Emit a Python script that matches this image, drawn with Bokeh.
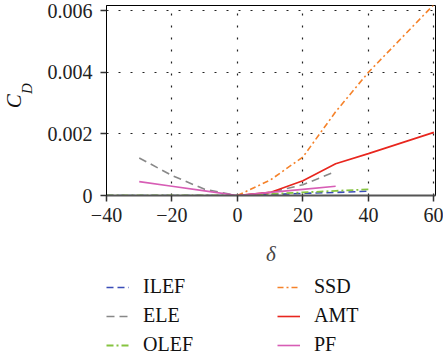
import math
from bokeh.plotting import figure
from bokeh.layouts import column, row
from bokeh.models import Legend, LegendItem, FixedTicker, CustomJSTickFormatter, Range1d
from bokeh.core.properties import value
from bokeh.embed import file_html
from bokeh.resources import INLINE

# ---- data ----
delta_ilef = [-40, -30, -20, -10, 0, 10, 20, 30, 40]
cd_ilef = [0, 0, 0, 0, 0, 0.00003, 0.00007, 0.0001, 0.00014]

delta_ele = [-30, -20, -10, 0, 10, 20, 30]
cd_ele = [0.00122, 0.00065, 0.0002, 0.0, 0.0001, 0.00035, 0.00078]

delta_olef = [-40, -30, -20, -10, 0, 10, 20, 30, 40]
cd_olef = [0, 0, 0, 0, 0, 0.00005, 0.0001, 0.00015, 0.0002]

delta_ssd = [0, 10, 20, 30, 40, 50, 60]
cd_ssd = [0.0, 0.0005, 0.00125, 0.00272, 0.004, 0.0051, 0.0062]

delta_amt = [0, 10, 20, 30, 40, 60]
cd_amt = [0.0, 0.0001, 0.00048, 0.00103, 0.00136, 0.00205]

delta_pf = [-30, -20, -10, 0, 10, 20, 30]
cd_pf = [0.00045, 0.0003, 0.00015, 0.0, 0.0001, 0.0002, 0.0003]

series_names = ["ILEF", "ELE", "OLEF", "SSD", "AMT", "PF"]
x_ticks = [-40, -20, 0, 20, 40, 60]
y_ticks = [0, 0.002, 0.004, 0.006]

FONT = "Liberation Serif"

styles = {
    "ILEF": dict(line_color="#3A4DB8", line_width=1.6, line_dash="7 4"),
    "ELE": dict(line_color="#888888", line_width=1.6, line_dash="8 5"),
    "OLEF": dict(line_color="#86C440", line_width=1.8, line_dash="7 3 2 3"),
    "SSD": dict(line_color="#F5822A", line_width=1.6, line_dash="6 3 2 3"),
    "AMT": dict(line_color="#E8261E", line_width=1.6, line_dash="solid"),
    "PF": dict(line_color="#D75DB5", line_width=1.6, line_dash="solid"),
}
data = {
    "ILEF": (delta_ilef, cd_ilef),
    "ELE": (delta_ele, cd_ele),
    "OLEF": (delta_olef, cd_olef),
    "SSD": (delta_ssd, cd_ssd),
    "AMT": (delta_amt, cd_amt),
    "PF": (delta_pf, cd_pf),
}

# ---- main plot ----
p = figure(width=408, height=270, output_backend="svg", toolbar_location=None,
           x_range=Range1d(-40, 60.5), y_range=Range1d(0, 0.00617),
           min_border_left=71, min_border_right=8, min_border_top=5, min_border_bottom=75)

p.outline_line_color = "black"
p.outline_line_width = 1
p.background_fill_color = "white"
p.border_fill_color = "white"

fmt = CustomJSTickFormatter(code="return tick < 0 ? '\\u2212' + Math.abs(tick) : tick.toString();")

p.xaxis.ticker = FixedTicker(ticks=x_ticks)
p.yaxis.ticker = FixedTicker(ticks=y_ticks)
p.xaxis.formatter = fmt
p.yaxis.formatter = fmt

for ax in (p.xaxis, p.yaxis):
    ax.major_label_text_font = FONT
    ax.major_label_text_font_size = "20px"
    ax.major_label_text_color = "#222222"
    ax.minor_tick_line_color = None
    ax.major_tick_out = 6
    ax.major_tick_in = 0
    ax.major_tick_line_color = "#333333"
    ax.major_tick_line_width = 1.5

p.xaxis.axis_line_color = "#555555"
p.xaxis.axis_line_width = 2
p.yaxis.axis_line_color = "black"
p.yaxis.axis_line_width = 1
p.xaxis.major_label_standoff = 6
p.yaxis.major_label_standoff = 8

p.xaxis.axis_label = "δ"
p.xaxis.axis_label_text_font = FONT
p.xaxis.axis_label_text_font_style = "italic"
p.xaxis.axis_label_text_font_size = "21px"
p.xaxis.axis_label_standoff = 17

for g in (p.xgrid, p.ygrid):
    g.grid_line_color = "#222222"
    g.grid_line_dash = "2 10"
    g.grid_line_width = 1.2

for name in series_names:
    xs, ys = data[name]
    p.line(xs, ys, **styles[name])

# ---- y-axis title C_D (italic, with subscript), in a narrow panel ----
lab = figure(width=35, height=270, output_backend="svg", toolbar_location=None,
             x_axis_type=None, y_axis_type=None, x_range=Range1d(0, 35), y_range=Range1d(270, 0),
             min_border_left=0, min_border_right=0, min_border_top=0, min_border_bottom=0)
lab.outline_line_color = None
lab.grid.visible = False
lab.text(x=[13], y=[136], text=["C"], angle=math.pi / 2,
         text_font=value(FONT), text_font_style="italic", text_font_size="21px",
         text_align="center", text_baseline="middle", text_color="#111111")
lab.text(x=[26], y=[118], text=["D"], angle=math.pi / 2,
         text_font=value(FONT), text_font_style="italic", text_font_size="15px",
         text_align="center", text_baseline="middle", text_color="#111111")

# ---- legend panel (series drawn again, outside the visible range, only to key the legend) ----
q = figure(width=443, height=91, output_backend="svg", toolbar_location=None,
           x_axis_type=None, y_axis_type=None, x_range=Range1d(-40, 60.5), y_range=Range1d(1, 2),
           min_border_left=0, min_border_right=0, min_border_top=0, min_border_bottom=0)
q.outline_line_color = None
q.grid.visible = False
items = []
for name in series_names:
    xs, ys = data[name]
    r = q.line(xs, ys, **styles[name])
    items.append(LegendItem(label=name, renderers=[r]))

legend = Legend(items=items, nrows=3, location=(106, 5), orientation="vertical")
legend.border_line_color = None
legend.background_fill_alpha = 0
legend.padding = 0
legend.margin = 0
legend.spacing = 6
legend.glyph_width = 23
legend.glyph_height = 20
legend.label_height = 20
legend.label_width = 128
legend.label_standoff = 14
legend.label_text_font = FONT
legend.label_text_font_size = "20px"
legend.label_text_color = "#111111"
q.add_layout(legend, "center")

layout = column(row(lab, p, spacing=0), q, spacing=0)

open("out.html", "w").write(file_html(layout, INLINE))
